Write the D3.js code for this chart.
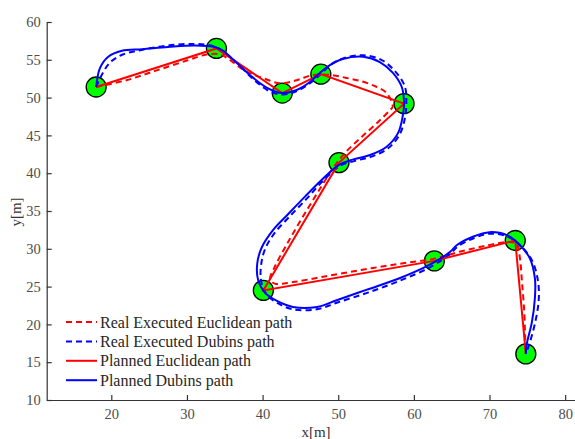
<!DOCTYPE html>
<html>
<head>
<meta charset="utf-8">
<script src="https://cdn.jsdelivr.net/npm/d3@7"></script>
<style>
  body { margin: 0; background: #fff; }
  text { font-family: "Liberation Serif", "Times New Roman", serif; }
</style>
</head>
<body>
<script>
// 图表的宽度和高度
var width = 575;
var height = 439;

// waypoints (x, y in metres)
var waypointX = [18.0, 33.9, 42.6, 47.7, 58.7, 50.1, 40.1, 62.7, 73.4, 74.8];
var waypointY = [51.4, 56.5, 50.6, 53.1, 49.2, 41.4, 24.5, 28.4, 31.1, 16.1];

// planned Dubins path
var dubinsX = [18.0, 18.5, 19.6, 21.4, 24.1, 27.5, 31.1, 33.7, 34.8, 35.7, 37.0, 38.3, 40.6, 42.6, 44.5, 46.3,
  47.6, 48.9, 50.6, 53.3, 55.5, 57.2, 58.4, 58.7, 58.5, 57.9, 56.4, 54.2, 51.9, 50.1, 47.8, 45.6, 43.3,
  41.4, 39.9, 39.3, 39.4, 40.3, 41.9, 44.0, 47.2, 49.8, 53.8, 58.1, 62.1, 64.8, 65.7, 67.8, 70.0, 72.3,
  74.0, 75.3, 76.0, 76.0, 75.6, 74.9, 74.8];
var dubinsY = [51.4, 53.9, 55.4, 56.2, 56.4, 56.7, 56.9, 56.7, 56.2, 55.4, 54.2, 53.0, 51.3, 50.6, 51.0, 52.1,
  53.3, 54.3, 55.1, 55.4, 54.7, 53.3, 51.4, 49.3, 47.4, 45.3, 43.5, 42.4, 41.8, 41.1, 39.1, 36.9, 34.5,
  32.5, 30.2, 28.1, 25.9, 24.2, 23.1, 22.3, 22.3, 23.2, 24.6, 26.1, 27.9, 29.6, 30.5, 31.6, 32.2, 31.8,
  30.5, 28.8, 26.1, 23.5, 20.3, 17.3, 16.1];

// real executed Dubins path
var realDubinsX = [18.0, 18.9, 19.9, 21.5, 24.0, 27.5, 31.0, 33.5, 35.2, 36.6, 38.6, 40.8, 42.7, 44.6, 46.4,
  47.8, 49.2, 51.0, 53.3, 55.7, 57.5, 58.8, 59.0, 58.8, 58.1, 56.6, 54.4, 52.1, 50.3, 48.0, 45.8, 43.5,
  41.6, 40.3, 39.8, 39.8, 40.5, 42.0, 44.0, 47.2, 49.9, 53.9, 58.2, 62.2, 64.9, 65.8, 67.9, 70.1, 72.4,
  74.2, 75.6, 76.4, 76.5, 76.0, 75.2, 74.8];
var realDubinsY = [51.4, 53.3, 54.7, 55.7, 56.3, 56.9, 57.1, 56.8, 55.8, 54.6, 52.6, 50.9, 50.4, 50.9, 52.0,
  53.2, 54.5, 55.3, 55.6, 55.0, 53.5, 51.5, 49.3, 47.2, 45.1, 43.3, 42.2, 41.6, 41.0, 39.0, 36.6, 34.2,
  32.1, 29.9, 27.8, 25.8, 24.0, 22.8, 22.0, 22.0, 22.9, 24.2, 25.8, 27.6, 29.4, 30.3, 31.4, 32.0, 31.6,
  30.3, 28.5, 25.8, 23.2, 20.1, 17.2, 16.1];

// real executed Euclidean path
var realEuclidX = [18.0, 22.0, 26.0, 30.0, 32.6, 34.4, 35.8, 37.6, 40.0, 42.3, 44.5, 46.7, 48.9, 51.1, 53.3,
  55.1, 56.4, 57.2, 56.8, 55.4, 53.1, 51.0, 49.4, 47.5, 45.3, 43.2, 41.6, 41.0, 41.6, 44.0, 48.0, 53.0,
  58.0, 62.7, 66.0, 69.5, 72.5, 73.6, 74.0, 74.3, 74.6, 74.7, 74.8];
var realEuclidY = [51.4, 52.3, 53.6, 54.9, 55.7, 55.7, 54.9, 53.6, 52.6, 51.9, 52.3, 53.0, 53.0, 52.6, 52.1,
  51.4, 50.6, 48.8, 48.3, 46.9, 44.8, 42.8, 40.8, 37.8, 34.2, 30.6, 27.6, 26.0, 25.4, 25.6, 26.3, 27.2,
  28.0, 28.7, 29.6, 30.4, 30.9, 30.6, 28.9, 25.5, 21.6, 18.6, 16.1];

var legendLabels = ['Real Executed Euclidean path', 'Real Executed Dubins path',
  'Planned Euclidean path', 'Planned Dubins path'];
var xTicks = [20, 30, 40, 50, 60, 70, 80];
var yTicks = [10, 15, 20, 25, 30, 35, 40, 45, 50, 55, 60];

var x = d3.scaleLinear().domain([11.46, 81.3]).range([46.7, 575]);
var y = d3.scaleLinear().domain([10, 60]).range([400, 22]);

var svg = d3.select('body')
  .append('svg')
  .attr('width', width)
  .attr('height', height);

function pts(xs, ys) {
  return xs.map(function(d, i){ return [d, ys[i]]; });
}

var smooth = d3.line()
  .x(function(d){ return x(d[0]); })
  .y(function(d){ return y(d[1]); })
  .curve(d3.curveCatmullRom.alpha(0.5));

var straight = d3.line()
  .x(function(d){ return x(d[0]); })
  .y(function(d){ return y(d[1]); });

// axes
var xAxis = svg.append('g')
  .attr('transform', 'translate(0,' + y(10) + ')')
  .call(d3.axisBottom(x).tickValues(xTicks).tickSizeInner(-5).tickSizeOuter(0).tickPadding(9));
var yAxis = svg.append('g')
  .attr('transform', 'translate(' + x(11.46) + ',0)')
  .call(d3.axisLeft(y).tickValues(yTicks).tickSizeInner(-5).tickSizeOuter(0).tickPadding(6));

[xAxis, yAxis].forEach(function(g){
  g.select('.domain').attr('stroke', '#333').attr('stroke-width', 1.2);
  g.selectAll('.tick line').attr('stroke', '#333').attr('stroke-width', 1.2);
  g.selectAll('.tick text')
    .attr('fill', '#4d4d4d')
    .style('font-family', '"Liberation Serif", serif')
    .style('font-size', '14.5px');
});

svg.append('text')
  .attr('x', 316)
  .attr('y', 437)
  .attr('text-anchor', 'middle')
  .attr('fill', '#333')
  .style('font-size', '15px')
  .text('x[m]');

svg.append('text')
  .attr('transform', 'translate(21,212) rotate(-90)')
  .attr('text-anchor', 'middle')
  .attr('fill', '#333')
  .style('font-size', '15px')
  .text('y[m]');

// waypoints below the paths
svg.selectAll('circle')
  .data(pts(waypointX, waypointY))
  .enter()
  .append('circle')
  .attr('cx', function(d){ return x(d[0]); })
  .attr('cy', function(d){ return y(d[1]); })
  .attr('r', 10)
  .attr('fill', '#00ff00')
  .attr('stroke', '#000')
  .attr('stroke-width', 1.3);

svg.append('path')
  .attr('d', smooth(pts(realEuclidX, realEuclidY)))
  .attr('fill', 'none')
  .attr('stroke', '#ff0000')
  .attr('stroke-width', 2)
  .attr('stroke-dasharray', '6,4');

svg.append('path')
  .attr('d', smooth(pts(realDubinsX, realDubinsY)))
  .attr('fill', 'none')
  .attr('stroke', '#0000ff')
  .attr('stroke-width', 2)
  .attr('stroke-dasharray', '6,4');

svg.append('path')
  .attr('d', straight(pts(waypointX, waypointY)))
  .attr('fill', 'none')
  .attr('stroke', '#ff0000')
  .attr('stroke-width', 2);

svg.append('path')
  .attr('d', smooth(pts(dubinsX, dubinsY)))
  .attr('fill', 'none')
  .attr('stroke', '#0000ff')
  .attr('stroke-width', 2);

// legend
var legendColors = ['#ff0000', '#0000ff', '#ff0000', '#0000ff'];
var legendDash = ['6,4', '6,4', null, null];

var legend = svg.selectAll('.legend')
  .data(legendLabels)
  .enter()
  .append('g')
  .attr('class', 'legend')
  .attr('transform', function(d, i){ return 'translate(66,' + (322 + i * 19.4) + ')'; });

legend.append('line')
  .attr('x1', 0)
  .attr('x2', 31)
  .attr('stroke', function(d, i){ return legendColors[i]; })
  .attr('stroke-width', 2)
  .attr('stroke-dasharray', function(d, i){ return legendDash[i]; });

legend.append('text')
  .attr('x', 34)
  .attr('y', 5.5)
  .attr('fill', '#262626')
  .style('font-size', '16px')
  .text(function(d){ return d; });
</script>
</body>
</html>
